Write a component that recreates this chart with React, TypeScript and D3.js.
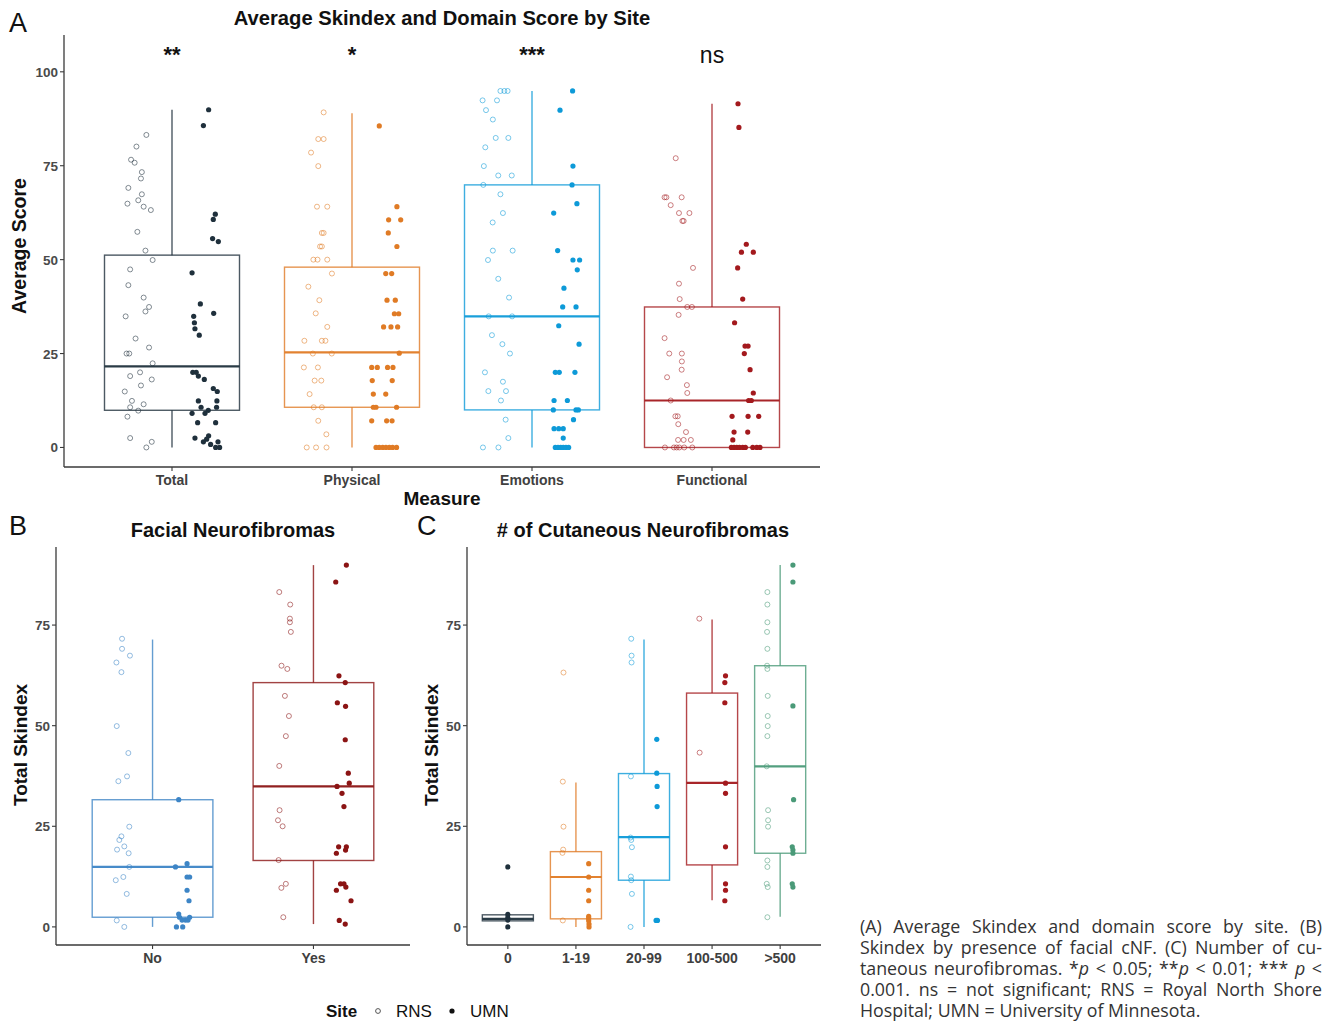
import React, { useEffect, useRef } from "react";
import * as d3 from "d3";

// each point: [score, horizontal jitter as a fraction of the category step]
type Pt = [number, number];

// ---------------- Panel A ----------------
const measures = ["Total", "Physical", "Emotions", "Functional"];
const measureColors = ["#1f303c", "#e07b25", "#0d9ad8", "#a3191d"];
const measureSignif = ["**", "*", "***", "ns"];
const ticksA = [0, 25, 50, 75, 100];

const totalRNS: Pt[] = [[83.2,0.045],[80.1,-0.01],[76.6,-0.04],[75.8,-0.02],[73.3,0.02],[71.6,0.015],[69.1,-0.055],[67.4,0.02],[65.8,0],[64.9,-0.06],[64.1,0.03],[63.2,0.07],[57.4,-0.005],[52.4,0.04],[49.9,0.08],[47.4,-0.045],[43.2,-0.055],[39.9,0.03],[37.4,0.06],[36.2,0.04],[34.9,-0.07],[29.0,-0.015],[26.6,0.06],[25.0,-0.065],[25.0,-0.05],[22.4,0.08],[20.0,0.01],[19.0,-0.045],[18.1,0.075],[16.5,0.015],[14.9,-0.075],[12.4,-0.035],[11.5,0.03],[10.7,-0.045],[9.8,0],[8.2,-0.06],[2.5,-0.045],[1.5,0.075],[0,0.045]];
const totalUMN: Pt[] = [[89.9,0.016],[85.7,-0.013],[62.1,0.053],[60.7,0.042],[55.6,0.038],[54.8,0.07],[46.5,-0.076],[38.2,-0.03],[35.7,0.044],[34.9,-0.067],[33.2,-0.063],[31.6,-0.06],[29.9,-0.036],[20.0,-0.072],[20.0,-0.053],[19.0,-0.041],[18.1,-0.008],[15.7,0.042],[14.9,0.064],[12.4,-0.041],[12.4,0.062],[10.7,-0.026],[10.7,0.06],[9.1,-0.076],[9.1,-0.004],[9.9,0.014],[6.6,-0.045],[6.6,0.055],[2.5,-0.06],[3.1,0.016],[2.2,0.005],[1.5,-0.013],[0.8,0.027],[1.5,0.068],[0,0.055],[0,0.077]];
const physicalRNS: Pt[] = [[89.2,0.03],[82.1,0],[82.1,0.03],[78.5,-0.04],[74.9,0],[64.1,-0.007],[64.1,0.05],[57.1,0.03],[57.1,0.02],[53.5,0.01],[53.5,0.02],[50.0,-0.027],[50.0,-0.004],[50.0,0.05],[46.3,0.076],[42.8,-0.055],[39.2,0.006],[35.7,-0.014],[32.1,0.05],[28.4,-0.077],[28.4,0.02],[28.4,0.04],[25.0,-0.03],[25.0,0.075],[21.3,-0.08],[21.3,-0.002],[17.8,-0.02],[17.8,0.017],[14.2,-0.048],[10.7,-0.025],[10.7,0.02],[7.1,0],[3.5,0.045],[0,-0.064],[0,-0.012],[0,0.046]];
const physicalUMN: Pt[] = [[85.6,-0.036],[64.1,0.062],[60.6,0.016],[60.6,0.083],[57.1,0.014],[53.5,0.062],[46.3,0],[46.3,0.033],[39.2,0.007],[39.2,0.053],[35.6,0.048],[35.6,0.072],[32.1,-0.012],[32.1,0.029],[32.1,0.066],[25.1,0.075],[21.3,-0.078],[21.3,-0.047],[21.3,0.01],[21.3,0.04],[17.8,-0.075],[17.8,0.036],[14.2,-0.069],[14.2,0],[10.7,-0.069],[10.7,-0.054],[10.7,0.06],[7.1,-0.078],[7.1,0.005],[7.1,0.035],[0,-0.054],[0,-0.036],[0,-0.017],[0,0.001],[0,0.02],[0,0.038],[0,0.06]];
const emotionsRNS: Pt[] = [[94.9,0.012],[94.9,0.034],[94.9,0.052],[92.4,-0.087],[92.4,-0.007],[89.8,-0.068],[87.3,-0.03],[82.4,-0.014],[82.4,0.056],[79.9,-0.072],[74.9,-0.08],[72.4,0],[72.4,0.075],[69.9,-0.083],[67.4,0.012],[62.4,0.026],[59.9,-0.031],[52.4,-0.03],[52.4,0.08],[49.9,-0.057],[44.9,0],[39.9,0.06],[34.9,-0.053],[34.9,0.077],[29.9,-0.035],[27.5,0.023],[25.0,0.065],[20.0,-0.074],[17.5,0.026],[15.0,-0.055],[15.0,0.043],[12.5,0.015],[7.4,0.041],[2.5,0.056],[0,-0.085],[0,0.001]];
const emotionsUMN: Pt[] = [[94.9,0.038],[89.8,-0.032],[74.9,0.04],[69.9,0.035],[64.9,0.062],[62.4,-0.067],[52.4,-0.045],[49.9,0.04],[49.9,0.077],[47.3,0.064],[42.4,-0.01],[37.4,-0.017],[37.4,0.057],[32.4,-0.039],[27.5,0.074],[20.0,-0.058],[20.0,-0.036],[20.0,0.051],[12.5,-0.065],[12.5,0.009],[10.0,-0.069],[10.0,0.057],[10.0,0.07],[7.4,0.043],[5.0,-0.065],[5.0,-0.039],[5.0,-0.014],[2.5,-0.014],[0,-0.058],[0,-0.043],[0,-0.028],[0,-0.014],[0,0.001],[0,0.016]];
const functionalRNS: Pt[] = [[77.0,-0.014],[66.6,-0.076],[66.6,-0.066],[66.6,0.019],[64.5,-0.042],[62.4,0.004],[62.4,0.062],[60.3,0.023],[60.3,0.03],[47.8,0.082],[43.6,0.004],[39.5,0.008],[37.4,0.05],[37.4,0.076],[35.3,0.002],[29.1,-0.076],[25.0,-0.05],[25.0,0.02],[22.9,0.02],[20.7,0.019],[18.7,-0.062],[16.6,0.048],[14.5,0.05],[12.5,-0.042],[8.3,-0.016],[8.3,-0.003],[6.2,0],[4.1,0.043],[2.0,-0.001],[2.0,0.03],[2.0,0.07],[0,-0.074],[0,-0.024],[0,-0.009],[0,0.006],[0,0.033],[0,0.078]];
const functionalUMN: Pt[] = [[91.5,-0.043],[85.2,-0.038],[54.1,0.003],[52.0,-0.024],[52.0,0.042],[47.8,-0.045],[39.5,-0.017],[33.2,-0.062],[27.0,-0.004],[27.0,0.013],[25.0,-0.008],[20.7,0.024],[14.5,0.042],[12.5,0.016],[12.5,0.031],[8.3,-0.076],[8.3,0.013],[8.3,0.072],[4.1,-0.065],[4.1,0.011],[2.0,-0.072],[0,-0.08],[0,-0.065],[0,-0.05],[0,-0.035],[0,-0.017],[0,-0.002],[0,0.039],[0,0.061],[0,0.079]];
// box statistics per measure: [lower whisker, Q1, median, Q3, upper whisker]
const boxA: number[][] = [[0, 9.9, 21.6, 51.2, 89.9],[0, 10.7, 25.3, 48.0, 89.0],[0, 10.0, 34.9, 69.9, 94.9],[0, 0, 12.5, 37.4, 91.5]];

// ---------------- Panel B ----------------
const facial = ["No", "Yes"];
const facialColors = ["#3d85c6", "#8b1414"];
const ticksBC = [0, 25, 50, 75];
const noRNS: Pt[] = [[71.6,-0.002],[69.1,-0.002],[67.4,0.047],[65.7,-0.037],[63.3,-0.006],[49.9,-0.035],[43.2,0.037],[37.4,0.029],[36.2,-0.025],[24.9,0.043],[22.5,-0.006],[21.6,-0.019],[20.0,0.012],[19.2,-0.033],[18.3,0.039],[14.9,0.043],[12.4,0.006],[11.6,-0.041],[8.2,0.027],[1.6,-0.035],[0,0.012]];
const noUMN: Pt[] = [[31.6,-0.025],[14.9,-0.045],[15.7,0.027],[12.4,0.027],[12.4,0.043],[9.1,0.027],[6.5,0.039],[3.2,-0.025],[2.4,-0.02],[1.7,-0.004],[1.7,0.017],[1.7,0.033],[2.4,0.043],[0,-0.039],[0,0]];
const yesRNS: Pt[] = [[83.2,-0.025],[80.1,0.043],[76.6,0.041],[75.7,0.041],[73.3,0.047],[64.9,-0.011],[64.1,0.025],[57.4,0.01],[52.4,0.035],[47.4,0.016],[40.0,-0.025],[29.0,-0.023],[26.5,-0.033],[25.0,-0.004],[16.6,-0.029],[10.7,0.016],[9.7,-0.012],[2.4,0]];
const yesUMN: Pt[] = [[89.9,0.017],[85.7,-0.049],[62.4,-0.029],[60.7,0.01],[55.7,-0.039],[54.8,0.012],[46.5,0.01],[38.2,0.029],[35.7,0.035],[34.9,-0.041],[33.2,-0.01],[29.9,0.002],[19.9,-0.031],[19.9,0.017],[19.1,0.012],[18.3,-0.045],[10.7,-0.019],[10.7,0.002],[9.1,-0.045],[9.9,0.014],[6.5,0.046],[1.6,-0.027],[0.7,0.01]];
const boxB: number[][] = [[0, 2.4, 14.9, 31.6, 71.4],[0.7, 16.5, 34.9, 60.7, 89.9]];

// ---------------- Panel C ----------------
const cnfGroups = ["0", "1-19", "20-99", "100-500", ">500"];
const cnfColors = ["#1f303c", "#e07b25", "#0d9ad8", "#a3191d", "#4a9a78"];
const c0RNS: Pt[] = [];
const c0UMN: Pt[] = [[14.9,0],[3.1,0],[2.3,0],[1.7,0],[0,0]];
const c1RNS: Pt[] = [[63.2,0.005],[36.1,-0.005],[24.9,0.005],[19.2,0],[18.4,-0.01],[1.6,-0.005]];
const c1UMN: Pt[] = [[15.7,0],[12.4,0],[9.1,0],[6.5,0],[2.6,0],[2.1,0],[1.5,0],[0.7,0.005],[0,0.005]];
const c2RNS: Pt[] = [[71.6,0],[67.4,0.005],[65.7,0.005],[37.4,-0.005],[22.2,-0.01],[21.6,0],[19.8,0.01],[12.5,-0.005],[11.6,0],[8.2,0.01],[0,-0.01]];
const c2UMN: Pt[] = [[46.6,0],[38.2,0],[34.9,0.005],[29.9,0.005],[1.6,-0.01],[1.6,0.01]];
const c3RNS: Pt[] = [[76.6,0],[43.3,0.005]];
const c3UMN: Pt[] = [[62.4,0.01],[60.7,0],[55.7,0],[35.7,0.01],[33.2,0.01],[19.9,0.01],[10.7,0.01],[9.1,0.01],[6.5,0]];
const c4RNS: Pt[] = [[83.2,0],[80.1,0],[75.7,0],[73.3,-0.005],[69.1,0],[64.9,-0.005],[64.1,0],[57.4,0.005],[52.4,0.005],[49.9,0.005],[47.4,0],[39.9,-0.01],[29.0,0.01],[26.5,0.01],[24.9,0.01],[16.5,0],[14.9,0],[10.7,-0.01],[9.9,0.005],[2.4,0]];
const c4UMN: Pt[] = [[89.9,0],[85.7,0],[54.9,0],[31.6,0.01],[19.9,-0.01],[19.1,0],[18.3,0],[10.7,-0.01],[9.9,0]];
const boxC: number[][] = [[1.5, 1.5, 2.0, 3.0, 3.1],[0, 2.0, 12.4, 18.7, 35.9],[0, 11.6, 22.3, 38.1, 71.4],[6.6, 15.4, 35.8, 58.1, 76.4],[2.5, 18.3, 39.9, 64.9, 89.9]];

const siteLabels = ["RNS", "UMN"];

const captionLines: [string, boolean][][] = [
  [["(A) Average Skindex and domain score by site. (B)", false]],
  [["Skindex by presence of facial cNF. (C) Number of cu-", false]],
  [["taneous neurofibromas. *", false], ["p", true], [" < 0.05; **", false], ["p", true], [" < 0.01; *** ", false], ["p", true], [" <", false]],
  [["0.001. ns = not significant; RNS = Royal North Shore", false]],
  [["Hospital; UMN = University of Minnesota.", false]],
];

const FONT = "'Liberation Sans', Arial, Helvetica, sans-serif";
const AXIS = "#3a3a3a";

interface PanelProps {
  cats: string[];
  colors: string[];
  rns: Pt[][];
  umn: Pt[][];
  stats: number[][];
  x0: number; x1: number; yTop: number; yBot: number;
  domain: [number, number];
  ticks: number[];
}

function BoxPanel(p: PanelProps) {
  const x = d3.scalePoint<string>().domain(p.cats).range([p.x0, p.x1]).padding(0.6);
  const y = d3.scaleLinear().domain(p.domain).range([p.yBot, p.yTop]);
  const step = x.step();
  const half = step * 0.375;
  const dodge = step * 0.1875;
  return (
    <g>
      {p.cats.map((c, i) => {
        const cx = x(c)!;
        const [lo, q1, med, q3, hi] = p.stats[i];
        const col = p.colors[i];
        return (
          <g key={"b" + c} stroke={col} fill="none">
            <line x1={cx} x2={cx} y1={y(q3)} y2={y(hi)} strokeWidth={1.4} strokeOpacity={0.8} />
            <line x1={cx} x2={cx} y1={y(q1)} y2={y(lo)} strokeWidth={1.4} strokeOpacity={0.8} />
            <rect x={cx - half} y={y(q3)} width={half * 2} height={y(q1) - y(q3)} strokeWidth={1.4} strokeOpacity={0.8} />
            <line x1={cx - half} x2={cx + half} y1={y(med)} y2={y(med)} strokeWidth={2.2} strokeOpacity={0.95} />
          </g>
        );
      })}
      {p.cats.map((c, i) => {
        const cx = x(c)!;
        const col = p.colors[i];
        const single = p.rns[i].length === 0 || p.umn[i].length === 0;
        const offR = single ? 0 : -dodge;
        const offU = single ? 0 : dodge;
        return (
          <g key={"p" + c}>
            {p.rns[i].map((d, j) => (
              <circle key={"r" + j} cx={cx + offR + d[1] * step} cy={y(d[0])} r={2.5}
                fill="none" stroke={col} strokeOpacity={0.55} strokeWidth={1} />
            ))}
            {p.umn[i].map((d, j) => (
              <circle key={"u" + j} cx={cx + offU + d[1] * step} cy={y(d[0])} r={2.6} fill={col} />
            ))}
          </g>
        );
      })}
      <line x1={p.x0} x2={p.x0} y1={p.yTop} y2={p.yBot} stroke={AXIS} strokeWidth={1.3} />
      <line x1={p.x0} x2={p.x1} y1={p.yBot} y2={p.yBot} stroke={AXIS} strokeWidth={1.3} />
      {p.ticks.map((t) => (
        <g key={"yt" + t}>
          <line x1={p.x0 - 4} x2={p.x0} y1={y(t)} y2={y(t)} stroke={AXIS} strokeWidth={1.1} />
          <text x={p.x0 - 6} y={y(t) + 5} textAnchor="end" fontFamily={FONT} fontWeight="bold" fontSize={13.5} fill="#4a4a4a">{t}</text>
        </g>
      ))}
      {p.cats.map((c) => (
        <g key={"xt" + c}>
          <line x1={x(c)} x2={x(c)} y1={p.yBot} y2={p.yBot + 4} stroke={AXIS} strokeWidth={1.1} />
          <text x={x(c)} y={p.yBot + 18} textAnchor="middle" fontFamily={FONT} fontWeight="bold" fontSize={14} fill="#404040">{c}</text>
        </g>
      ))}
    </g>
  );
}

export default function App() {
  const capRef = useRef<SVGGElement>(null);
  useEffect(() => {
    const g = capRef.current;
    if (!g) return;
    g.querySelectorAll("text[data-justify]").forEach((el) => {
      const t = el as SVGTextElement;
      const target = +(t.getAttribute("data-justify") || 0);
      const len = t.getComputedTextLength();
      const spaces = ((t.textContent || "").match(/ /g) || []).length;
      if (spaces > 0) t.style.wordSpacing = `${(target - len) / spaces}px`;
    });
  }, []);

  const xA = d3.scalePoint<string>().domain(measures).range([64, 820]).padding(0.6);

  const capX = 860, capW = 462;
  return (
    <svg width={1336} height={1022} style={{ position: "absolute", left: 0, top: 0, background: "#fff" }}>
      <rect width={1336} height={1022} fill="#fff" />
      {/* Panel A */}
      <text x={9} y={32} fontFamily={FONT} fontSize={27} fill="#111">A</text>
      <text x={442} y={25} textAnchor="middle" fontFamily={FONT} fontWeight="bold" fontSize={20.2} fill="#111">Average Skindex and Domain Score by Site</text>
      {measures.map((m, i) => (
        measureSignif[i] === "ns"
          ? <text key={m} x={xA(m)} y={63} textAnchor="middle" fontFamily={FONT} fontSize={23} fill="#111">{measureSignif[i]}</text>
          : <text key={m} x={xA(m)} y={62} textAnchor="middle" fontFamily={FONT} fontWeight="bold" fontSize={22} fill="#111">{measureSignif[i]}</text>
      ))}
      <BoxPanel cats={measures} colors={measureColors}
        rns={[totalRNS, physicalRNS, emotionsRNS, functionalRNS]}
        umn={[totalUMN, physicalUMN, emotionsUMN, functionalUMN]}
        stats={boxA} x0={64} x1={820} yTop={35} yBot={467} domain={[-5.2, 109.8]} ticks={ticksA} />
      <text transform="translate(26,246) rotate(-90)" textAnchor="middle" fontFamily={FONT} fontWeight="bold" fontSize={19.5} fill="#111">Average Score</text>
      <text x={442} y={505} textAnchor="middle" fontFamily={FONT} fontWeight="bold" fontSize={19} fill="#111">Measure</text>

      {/* Panel B */}
      <text x={9} y={535} fontFamily={FONT} fontSize={27} fill="#111">B</text>
      <text x={233} y={537} textAnchor="middle" fontFamily={FONT} fontWeight="bold" fontSize={20} fill="#111">Facial Neurofibromas</text>
      <BoxPanel cats={facial} colors={facialColors} rns={[noRNS, yesRNS]} umn={[noUMN, yesUMN]}
        stats={boxB} x0={56} x1={410} yTop={547} yBot={945} domain={[-4.5, 94.4]} ticks={ticksBC} />
      <text transform="translate(27,745) rotate(-90)" textAnchor="middle" fontFamily={FONT} fontWeight="bold" fontSize={19} fill="#111">Total Skindex</text>

      {/* Panel C */}
      <text x={417} y={535} fontFamily={FONT} fontSize={27} fill="#111">C</text>
      <text x={643} y={537} textAnchor="middle" fontFamily={FONT} fontWeight="bold" fontSize={20} fill="#111"># of Cutaneous Neurofibromas</text>
      <BoxPanel cats={cnfGroups} colors={cnfColors}
        rns={[c0RNS, c1RNS, c2RNS, c3RNS, c4RNS]} umn={[c0UMN, c1UMN, c2UMN, c3UMN, c4UMN]}
        stats={boxC} x0={467} x1={821} yTop={547} yBot={945} domain={[-4.5, 94.4]} ticks={ticksBC} />
      <text transform="translate(438,745) rotate(-90)" textAnchor="middle" fontFamily={FONT} fontWeight="bold" fontSize={19} fill="#111">Total Skindex</text>

      {/* Legend */}
      <g fontFamily={FONT} fontSize={17} fill="#111">
        <text x={326} y={1017} fontWeight="bold">Site</text>
        <circle cx={378} cy={1011} r={2.4} fill="none" stroke="#555" strokeWidth={1} />
        <text x={396} y={1017}>{siteLabels[0]}</text>
        <circle cx={452} cy={1011} r={2.6} fill="#111" />
        <text x={470} y={1017}>{siteLabels[1]}</text>
      </g>

      {/* Caption */}
      <g ref={capRef} fontFamily="'Open Sans', 'Noto Sans', sans-serif" fontSize={17.8} fill="#333">
        {captionLines.map((line, i) => (
          <text key={i} x={capX} y={933 + i * 21} data-justify={i < captionLines.length - 1 ? capW : undefined}
            style={{ whiteSpace: "pre" }}>
            {line.map(([s, it], j) => (
              <tspan key={j} fontStyle={it ? "italic" : "normal"}>{s}</tspan>
            ))}
          </text>
        ))}
      </g>
    </svg>
  );
}
